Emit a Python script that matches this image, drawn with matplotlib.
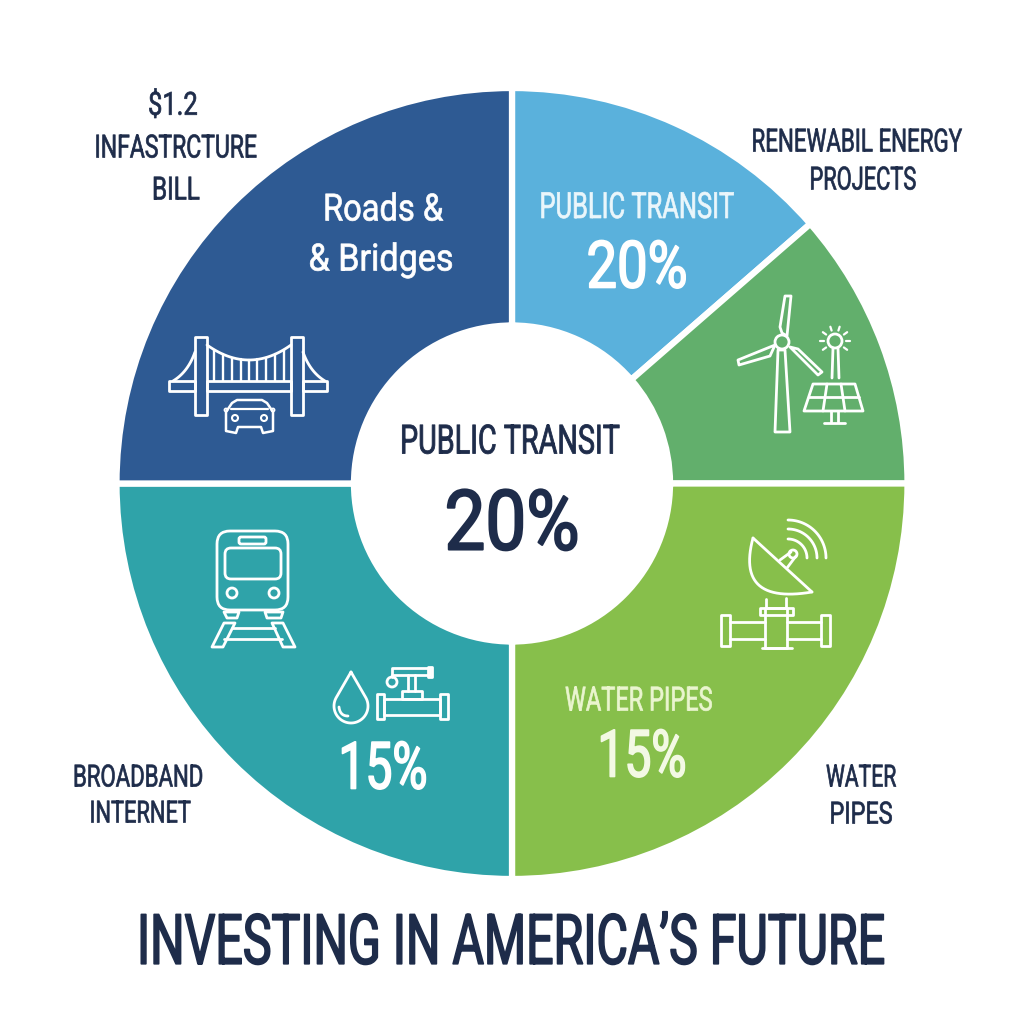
import numpy as np
import matplotlib
matplotlib.use("Agg")
import matplotlib.pyplot as plt
from matplotlib.patches import Circle, FancyBboxPatch, Polygon
from matplotlib.patheffects import AbstractPathEffect
from matplotlib.text import Text
from matplotlib.transforms import Affine2D, Bbox

# ---- data ----
segment_names = ["Public Transit", "Renewable Energy", "Water Pipes", "Broadband", "Roads & Bridges"]
segment_shares = [13.6, 11.4, 25.0, 25.0, 25.0]
segment_colors = ["#5AB1DC", "#62AF6C", "#87BF4B", "#2FA3A9", "#2E5A93"]
title = "INVESTING IN AMERICA\u2019S FUTURE"

FONT = "Roboto"
NAVY = "#1E2C4A"

fig = plt.figure(figsize=(10.24, 10.24), dpi=100, facecolor="white")
ax = fig.add_axes([0, 0, 1, 1])
ax.pie(segment_shares, colors=segment_colors, startangle=90, counterclock=False,
       center=(512, 1024 - 483.5), radius=395.5,
       wedgeprops=dict(width=395.5 - 158, edgecolor="white", linewidth=4.5))
ax.set_xlim(0, 1024)
ax.set_ylim(0, 1024)
ax.set_aspect("equal")
ax.axis("off")


class Condense(AbstractPathEffect):
    """Rescale glyph outlines about the text centre and embolden them a little."""
    def __init__(self, sx, sy, cx, cy, stroke):
        super().__init__()
        self.sx, self.sy, self.cx, self.cy, self.stroke = sx, sy, cx, cy, stroke

    def draw_path(self, renderer, gc, tpath, affine, rgbFace=None):
        aff = affine + Affine2D().translate(-self.cx, -self.cy).scale(self.sx, self.sy).translate(self.cx, self.cy)
        g = renderer.new_gc()
        g.copy_properties(gc)
        g.set_linewidth(self.stroke)
        g.set_foreground(rgbFace)
        renderer.draw_path(g, tpath, aff, rgbFace)
        g.restore()


class NarrowText(Text):
    """Real text whose reported extent is that of the rescaled drawing."""
    sx = 1.0

    def get_window_extent(self, renderer=None, dpi=None):
        bb = super().get_window_extent(renderer, dpi)
        c = (bb.x0 + bb.x1) / 2
        return Bbox.from_extents(c + (bb.x0 - c) * self.sx, bb.y0, c + (bb.x1 - c) * self.sx, bb.y1)


def P(pts):
    return [(x, 1024 - y) for x, y in pts]


rend = fig.canvas.get_renderer()


def label(x, y, s, size, width, color=NAVY, stroke=0.5, sy=1.0):
    t = NarrowText(x, 1024 - y, s, fontsize=size / sy, color=color, family=FONT,
                   ha="center", va="center_baseline", transform=ax.transData)
    ax.add_artist(t)
    raw = Text.get_window_extent(t, rend).width
    t.sx = width / raw
    t.set_path_effects([Condense(t.sx, sy, x, 1024 - y, stroke)])
    return t


LW = 2.0
W = "white"


def line(pts, color=W, lw=LW):
    a = np.array(P(pts))
    ax.plot(a[:, 0], a[:, 1], color=color, lw=lw, solid_capstyle="round", solid_joinstyle="round")


def poly(pts, color=W, lw=LW):
    ax.add_patch(Polygon(P(pts), closed=True, fill=False, edgecolor=color, lw=lw, joinstyle="round"))


def rect(x0, y0, x1, y1, color=W, lw=LW):
    poly([(x0, y0), (x1, y0), (x1, y1), (x0, y1)], color, lw)


def rrect(x0, y0, x1, y1, r, color=W, lw=LW):
    ax.add_patch(FancyBboxPatch((x0 + r, 1024 - y1 + r), x1 - x0 - 2 * r, y1 - y0 - 2 * r,
                                boxstyle=f"round,pad={r},rounding_size={r}", fill=False,
                                edgecolor=color, lw=lw))


def circ(x, y, r, color=W, lw=LW):
    ax.add_patch(Circle((x, 1024 - y), r, fill=False, edgecolor=color, lw=lw))


def bez(p0, p1, p2, n=30):
    t = np.linspace(0, 1, n)[:, None]
    p0, p1, p2 = map(np.array, (p0, p1, p2))
    return (1 - t) ** 2 * p0 + 2 * t * (1 - t) * p1 + t ** 2 * p2


# ---- bridge ----
rect(195, 337, 207, 415); rect(291, 337, 303, 415)
rect(169, 381, 195, 391); rect(207, 381, 291, 391); rect(303, 381, 327, 391)
cable = bez((207, 345), (249, 375), (291, 345))
line(cable)
line(bez((195, 352), (188, 372), (173, 381)))
line(bez((303, 352), (310, 372), (325, 381)))
for x in [214, 223, 232, 241, 249, 257, 266, 275, 284]:
    yc = np.interp(x, cable[:, 0], cable[:, 1])
    line([(x, yc), (x, 381)], lw=1.7)
# car
poly([(226, 412), (232, 403), (237, 400), (262, 400), (267, 403), (273, 412),
      (273, 431), (263, 433), (261, 427), (238, 427), (236, 433), (226, 431)], lw=1.8)
line([(231, 409), (268, 409)], lw=1.6)
circ(235, 418, 3, lw=1.5); circ(264, 418, 3, lw=1.5)
circ(226, 410, 1.5, lw=1.3); circ(273, 410, 1.5, lw=1.3)
# ---- train ----
rrect(217, 531, 288, 610, 13)
rrect(239, 537, 266, 544, 2)
rrect(225, 548, 281, 579, 6)
circ(232, 593, 5); circ(274, 593, 5)
poly([(224, 612), (239, 612), (237, 618), (227, 618)])
poly([(265, 612), (283, 612), (281, 618), (267, 618)])
poly([(224, 623), (235, 623), (223, 647), (212, 647)])
poly([(272, 623), (283, 623), (295, 647), (283, 647)])
line([(232, 628), (275, 628)]); line([(224, 639), (282, 639)])
# ---- turbine ----
circ(782, 342, 7)
poly([(780, 327), (785, 296), (791, 296), (787, 336), (782, 333)])
poly([(775, 345), (738, 360), (739, 365), (770, 356)])
poly([(790, 347), (798, 349), (822, 372), (818, 375)])
poly([(778, 350), (775, 432), (790, 432), (785, 350)])
# sun + panel
circ(835, 341, 7)
for a in np.arange(0, 360, 36):
    if 250 < a < 290:
        continue
    c, s = np.cos(np.radians(a)), np.sin(np.radians(a))
    line([(835 + 11 * c, 341 - 11 * s), (835 + 15 * c, 341 - 15 * s)], lw=1.6)
line([(833, 348), (832, 378)]); line([(838, 348), (839, 378)])
poly([(813, 384), (855, 384), (863, 411), (804, 411)])
line([(809, 397), (859, 397)])
line([(827, 384), (823, 411)]); line([(841, 384), (845, 411)])
line([(831, 411), (831, 422)]); line([(838, 411), (838, 422)]); line([(824, 423), (845, 423)])
# ---- dish + pipe ----
line([(753, 538), (812, 592)])
line(bez((753, 538), (735, 605), (812, 592)))
line([(780, 560), (791, 552)]); line([(787, 568), (796, 556)])
circ(793, 554, 4)
for r in (19, 29, 38):
    t = np.radians(np.linspace(0, 90, 30))
    line(np.c_[788 + r * np.cos(t), 558 - r * np.sin(t)].tolist())
rect(721, 615, 730, 646); rect(821, 615, 830, 646)
line([(730, 622), (765, 622)]); line([(730, 639), (765, 639)])
line([(787, 622), (821, 622)]); line([(787, 639), (821, 639)])
rect(765, 608, 787, 648)
rect(760, 608, 793, 615)
line([(762, 648), (792, 648)])
line([(766, 599), (766, 608)]); line([(786, 598), (786, 608)])
# ---- water drop + pipe ----
t = np.radians(np.linspace(-30, 210, 50))
drop = np.c_[351 + 17 * np.cos(t), 706 + 17 * np.sin(t)]
line([(351, 672)] + drop.tolist() + [(351, 672)])
line(bez((339, 707), (340, 716), (348, 716)))
rect(377, 694, 384, 719); rect(440, 694, 448, 719)
rect(384, 699, 440, 715)
rect(402, 691, 422, 699)
line([(408, 675), (408, 691)]); line([(415, 675), (415, 691)])
rect(392, 668, 430, 675)
rect(428, 667, 432, 677)
circ(392, 682, 5)
line([(392, 675), (392, 677)])

# ---- text ----
label(173, 103, "$1.2", 23, 50)
label(176, 146, "INFASTRCTURE", 23, 163)
label(176, 188, "BILL", 23, 48)
label(857, 140, "RENEWABIL ENERGY", 23, 211)
label(863, 178, "PROJECTS", 23, 107)
label(383, 206, "Roads &", 27, 120, W)
label(381, 256, "& Bridges", 27, 145, W)
label(637, 204, "PUBLIC TRANSIT", 26, 195, "#EAF6FB")
label(637, 263, "20%", 47, 101, W, 1.2)
label(510, 438, "PUBLIC TRANSIT", 29, 220, NAVY, 0.6)
label(512, 518, "20%", 60, 135, NAVY, 1.5)
label(639, 698, "WATER PIPES", 24, 148, "#EAF5CF")
label(642, 752, "15%", 47, 89, "#F3F9E4", 1.2)
label(383, 764, "15%", 47, 89, W, 1.2)
label(138, 775, "BROADBAND", 22, 130)
label(140, 811, "INTERNET", 22, 101)
label(861, 775, "WATER", 22, 70)
label(861, 812, "PIPES", 22, 63)
label(511, 938, title, 50, 748, NAVY, 1.2, sy=1.2)

fig.savefig("out.png", dpi=100, facecolor="white")
